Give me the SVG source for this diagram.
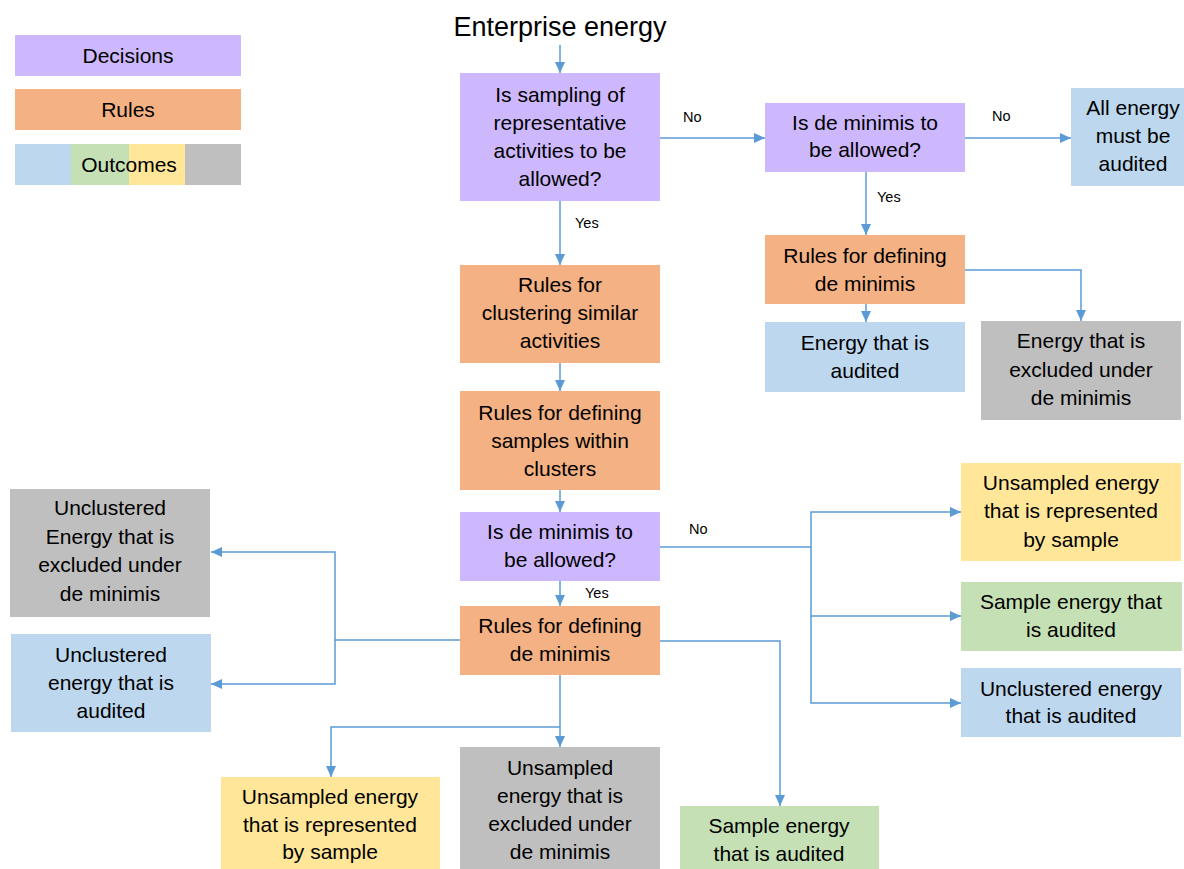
<svg xmlns="http://www.w3.org/2000/svg" width="1184" height="869" viewBox="0 0 1184 869">
<defs>
<style>
text{font-family:"Liberation Sans",Arial,sans-serif;fill:#000;}
.t{font-size:21px;text-anchor:middle;}
.lbl{font-size:14.5px;}
.dec{fill:#cdb8fd;}
.rule{fill:#f4b183;}
.blue{fill:#bdd7ee;}
.green{fill:#c5e0b4;}
.yellow{fill:#ffe699;}
.gray{fill:#bfbfbf;}
.c{fill:none;stroke:#5b9bd5;stroke-width:1.5;}
</style>
<marker id="ah" markerUnits="userSpaceOnUse" markerWidth="12" markerHeight="12" viewBox="0 0 12 12" refX="11" refY="6" orient="auto">
<path d="M0,1 L11,6 L0,11 Z" fill="#5b9bd5"/>
</marker>
</defs>
<rect width="1184" height="869" fill="#fff"/>

<g id="legend">
<rect class="dec" x="15" y="35" width="226" height="41"/>
<text class="t" x="128" y="63">Decisions</text>
<rect class="rule" x="15" y="89" width="226" height="41"/>
<text class="t" x="128" y="117">Rules</text>
<rect class="blue" x="15" y="144" width="56" height="41"/>
<rect class="green" x="71" y="144" width="58" height="41"/>
<rect class="yellow" x="129" y="144" width="56" height="41"/>
<rect class="gray" x="185" y="144" width="56" height="41"/>
<text class="t" x="129" y="172">Outcomes</text>
</g>

<g id="title"><text x="560" y="36" style="font-size:27px;text-anchor:middle">Enterprise energy</text></g>

<g id="connectors">
<path class="c" d="M560,45 V73" marker-end="url(#ah)"/>
<path class="c" d="M660,138 H765" marker-end="url(#ah)"/>
<path class="c" d="M560,201 V265" marker-end="url(#ah)"/>
<path class="c" d="M965,138 H1071" marker-end="url(#ah)"/>
<path class="c" d="M866,172 V235" marker-end="url(#ah)"/>
<path class="c" d="M866,304 V322" marker-end="url(#ah)"/>
<path class="c" d="M965,270 H1081 V321" marker-end="url(#ah)"/>
<path class="c" d="M560,363 V391" marker-end="url(#ah)"/>
<path class="c" d="M560,490 V512" marker-end="url(#ah)"/>
<path class="c" d="M560,581 V606" marker-end="url(#ah)"/>
<path class="c" d="M660,547 H811 V512 H961" marker-end="url(#ah)"/>
<path class="c" d="M811,547 V616 H961" marker-end="url(#ah)"/>
<path class="c" d="M811,616 V703 H961" marker-end="url(#ah)"/>
<path class="c" d="M460,640 H335 V552 H211" marker-end="url(#ah)"/>
<path class="c" d="M335,640 V684 H211" marker-end="url(#ah)"/>
<path class="c" d="M560,675 V747" marker-end="url(#ah)"/>
<path class="c" d="M560,727 H331 V777" marker-end="url(#ah)"/>
<path class="c" d="M660,641 H780 V806" marker-end="url(#ah)"/>
<text class="lbl" x="683" y="122">No</text>
<text class="lbl" x="575" y="228">Yes</text>
<text class="lbl" x="992" y="121">No</text>
<text class="lbl" x="877" y="202">Yes</text>
<text class="lbl" x="689" y="534">No</text>
<text class="lbl" x="585" y="598">Yes</text>
</g>

<g id="d1">
<rect class="dec" x="460" y="73" width="200" height="128"/>
<text class="t" x="560" y="102">Is sampling of</text>
<text class="t" x="560" y="130">representative</text>
<text class="t" x="560" y="158">activities to be</text>
<text class="t" x="560" y="186">allowed?</text>
</g>

<g id="d2">
<rect class="dec" x="765" y="103" width="200" height="69"/>
<text class="t" x="865" y="130">Is de minimis to</text>
<text class="t" x="865" y="157">be allowed?</text>
</g>

<g id="allAudited">
<rect class="blue" x="1071" y="88" width="124" height="98"/>
<text class="t" x="1133" y="115">All energy</text>
<text class="t" x="1133" y="143">must be</text>
<text class="t" x="1133" y="171">audited</text>
</g>

<g id="r1">
<rect class="rule" x="765" y="235" width="200" height="69"/>
<text class="t" x="865" y="263">Rules for defining</text>
<text class="t" x="865" y="291">de minimis</text>
</g>

<g id="o1">
<rect class="blue" x="765" y="322" width="200" height="70"/>
<text class="t" x="865" y="350">Energy that is</text>
<text class="t" x="865" y="378">audited</text>
</g>

<g id="o2">
<rect class="gray" x="981" y="321" width="200" height="99"/>
<text class="t" x="1081" y="348">Energy that is</text>
<text class="t" x="1081" y="377">excluded under</text>
<text class="t" x="1081" y="405">de minimis</text>
</g>

<g id="r2">
<rect class="rule" x="460" y="265" width="200" height="98"/>
<text class="t" x="560" y="292">Rules for</text>
<text class="t" x="560" y="320">clustering similar</text>
<text class="t" x="560" y="348">activities</text>
</g>

<g id="r3">
<rect class="rule" x="460" y="391" width="200" height="99"/>
<text class="t" x="560" y="420">Rules for defining</text>
<text class="t" x="560" y="448">samples within</text>
<text class="t" x="560" y="476">clusters</text>
</g>

<g id="d3">
<rect class="dec" x="460" y="512" width="200" height="69"/>
<text class="t" x="560" y="539">Is de minimis to</text>
<text class="t" x="560" y="567">be allowed?</text>
</g>

<g id="r4">
<rect class="rule" x="460" y="606" width="200" height="69"/>
<text class="t" x="560" y="633">Rules for defining</text>
<text class="t" x="560" y="661">de minimis</text>
</g>

<g id="o3">
<rect class="yellow" x="961" y="463" width="220" height="98"/>
<text class="t" x="1071" y="490">Unsampled energy</text>
<text class="t" x="1071" y="518">that is represented</text>
<text class="t" x="1071" y="547">by sample</text>
</g>

<g id="o4">
<rect class="green" x="961" y="582" width="221" height="69"/>
<text class="t" x="1071" y="609">Sample energy that</text>
<text class="t" x="1071" y="637">is audited</text>
</g>

<g id="o5">
<rect class="blue" x="961" y="668" width="220" height="69"/>
<text class="t" x="1071" y="696">Unclustered energy</text>
<text class="t" x="1071" y="723">that is audited</text>
</g>

<g id="o6">
<rect class="gray" x="10" y="489" width="200" height="128"/>
<text class="t" x="110" y="515">Unclustered</text>
<text class="t" x="110" y="544">Energy that is</text>
<text class="t" x="110" y="572">excluded under</text>
<text class="t" x="110" y="601">de minimis</text>
</g>

<g id="o7">
<rect class="blue" x="11" y="634" width="200" height="98"/>
<text class="t" x="111" y="662">Unclustered</text>
<text class="t" x="111" y="690">energy that is</text>
<text class="t" x="111" y="718">audited</text>
</g>

<g id="o8">
<rect class="yellow" x="221" y="777" width="219" height="92"/>
<text class="t" x="330" y="804">Unsampled energy</text>
<text class="t" x="330" y="832">that is represented</text>
<text class="t" x="330" y="859">by sample</text>
</g>

<g id="o9">
<rect class="gray" x="460" y="747" width="200" height="122"/>
<text class="t" x="560" y="775">Unsampled</text>
<text class="t" x="560" y="803">energy that is</text>
<text class="t" x="560" y="831">excluded under</text>
<text class="t" x="560" y="859">de minimis</text>
</g>

<g id="o10">
<rect class="green" x="680" y="806" width="199" height="63"/>
<text class="t" x="779" y="833">Sample energy</text>
<text class="t" x="779" y="861">that is audited</text>
</g>
</svg>
